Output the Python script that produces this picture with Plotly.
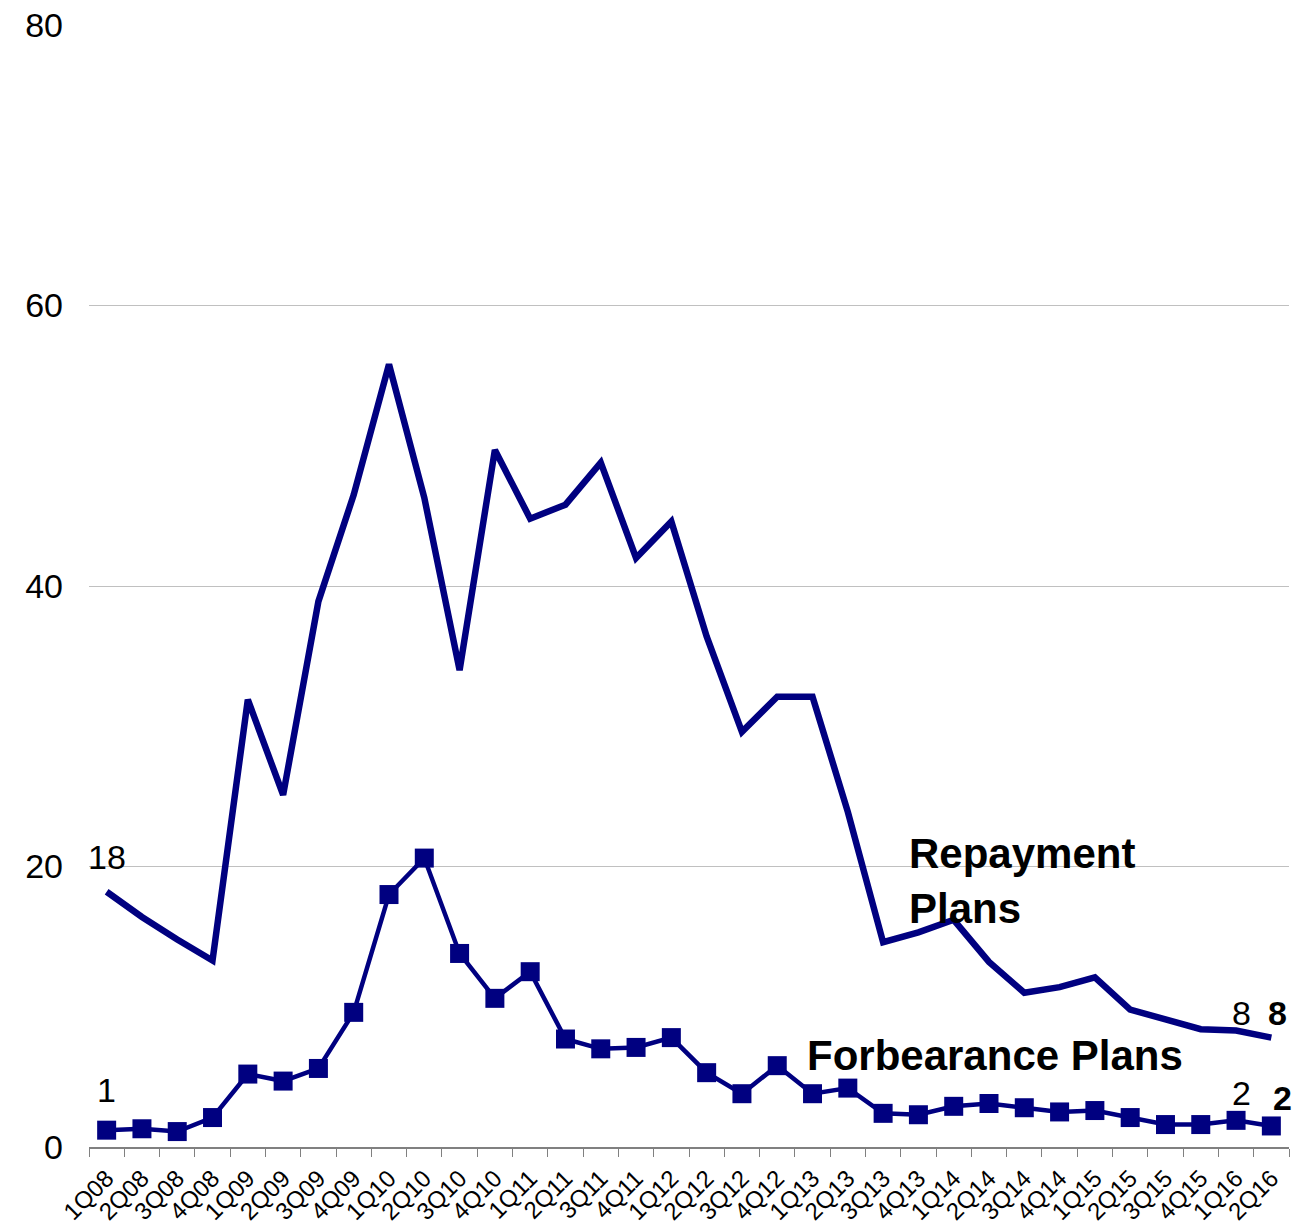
import plotly.graph_objects as go

quarters = ["1Q08","2Q08","3Q08","4Q08","1Q09","2Q09","3Q09","4Q09","1Q10","2Q10","3Q10","4Q10",
            "1Q11","2Q11","3Q11","4Q11","1Q12","2Q12","3Q12","4Q12","1Q13","2Q13","3Q13","4Q13",
            "1Q14","2Q14","3Q14","4Q14","1Q15","2Q15","3Q15","4Q15","1Q16","2Q16"]

repayment = [18.2, 16.4, 14.8, 13.3, 31.9, 25.1, 38.9, 46.5, 55.8, 46.3, 34.0, 49.7,
             44.8, 45.8, 48.8, 42.0, 44.6, 36.4, 29.6, 32.1, 32.1, 23.9, 14.6, 15.3,
             16.2, 13.2, 11.0, 11.4, 12.1, 9.8, 9.1, 8.4, 8.3, 7.8]

forbearance = [1.2, 1.3, 1.1, 2.1, 5.2, 4.7, 5.6, 9.6, 18.0, 20.6, 13.8, 10.6,
               12.5, 7.7, 7.0, 7.1, 7.8, 5.3, 3.8, 5.8, 3.8, 4.2, 2.4, 2.3,
               2.9, 3.1, 2.8, 2.5, 2.6, 2.1, 1.6, 1.6, 1.9, 1.5]

y_ticks = [0, 20, 40, 60, 80]

NAVY = "#000080"
FONT = "Liberation Sans, Arial, sans-serif"

fig = go.Figure()
fig.add_trace(go.Scatter(x=quarters, y=repayment, mode="lines",
                         line=dict(color=NAVY, width=6.5), name="Repayment Plans",
                         showlegend=False))
fig.add_trace(go.Scatter(x=quarters, y=forbearance, mode="lines+markers",
                         line=dict(color=NAVY, width=4.5),
                         marker=dict(symbol="square", size=19, color=NAVY),
                         name="Forbearance Plans", showlegend=False))

NUM = 34
ann = [
    dict(x=quarters[0], y=20.7, text="18"),
    dict(x=quarters[0], y=4.1, text="1"),
    dict(x=quarters[-2], y=9.55, text="8", xshift=5),
    dict(x=quarters[-1], y=9.55, text="<b>8</b>", xshift=6),
    dict(x=quarters[-2], y=3.85, text="2", xshift=5),
    dict(x=quarters[-1], y=3.5, text="<b>2</b>", xshift=11),
]
annotations = []
for a in ann:
    d = dict(xref="x", yref="y", showarrow=False, xanchor="center", yanchor="middle",
             font=dict(family=FONT, color="black", size=NUM))
    d.update(a)
    annotations.append(d)

annotations.append(dict(xref="paper", yref="y", x=0.6815, y=19.0, xanchor="left", yanchor="middle",
                        align="left", showarrow=False, text="<b>Repayment<br>Plans</b>",
                        font=dict(family=FONT, size=42, color="black")))
annotations.append(dict(xref="paper", yref="y", x=0.5965, y=6.56, xanchor="left", yanchor="middle",
                        align="left", showarrow=False, text="<b>Forbearance Plans</b>",
                        font=dict(family=FONT, size=42, color="black")))

fig.update_layout(
    width=1303, height=1225,
    margin=dict(l=89, r=14, t=25, b=78, autoexpand=False),
    paper_bgcolor="white", plot_bgcolor="white",
    font=dict(family=FONT, color="black"),
    annotations=annotations,
    showlegend=False,
)
fig.update_xaxes(type="category", range=[-0.5, len(quarters) - 0.5],
                 tickson="boundaries", ticks="outside", ticklen=8, tickcolor="#808080",
                 showline=True, linecolor="#808080", linewidth=1.5, showgrid=False,
                 tickangle=-45, tickfont=dict(size=24, family=FONT, color="black"),
                 ticklabelstandoff=6, automargin=False)
fig.update_yaxes(range=[0, 80], tickvals=y_ticks, ticktext=[str(v) for v in y_ticks],
                 showgrid=True, gridcolor="#c0c0c0", gridwidth=1, zeroline=False,
                 showline=False, ticks="", tickfont=dict(size=34, family=FONT, color="black"),
                 ticklabelstandoff=25, automargin=False)

fig.write_html("out.html")
